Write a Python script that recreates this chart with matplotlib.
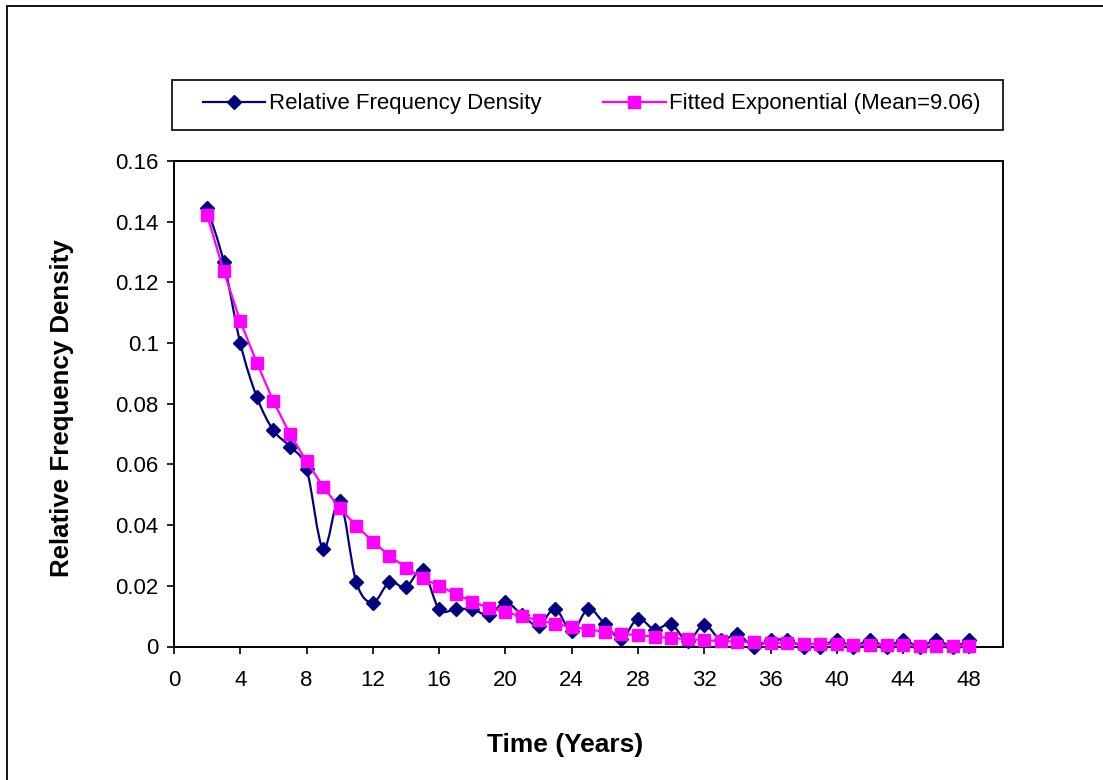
import numpy as np
import matplotlib
matplotlib.use("Agg")
import matplotlib.pyplot as plt
from matplotlib.path import Path
from matplotlib.patches import PathPatch, Rectangle
from matplotlib.lines import Line2D
from matplotlib.ticker import FuncFormatter

plt.rcParams['font.family'] = ['Liberation Sans', 'DejaVu Sans']

# Time in years
years = list(range(2, 49))

# Observed relative frequency density
rel_freq = [0.1446, 0.1268, 0.1000, 0.0822, 0.0712, 0.0659, 0.0585, 0.0321,
            0.0481, 0.0212, 0.0145, 0.0212, 0.0195, 0.0252, 0.0123, 0.0123,
            0.0123, 0.0104, 0.0146, 0.0104, 0.0069, 0.0124, 0.0050, 0.0124,
            0.0074, 0.0026, 0.0092, 0.0056, 0.0074, 0.0018, 0.0072, 0.0022,
            0.0040, 0.0000, 0.0021, 0.0021, 0.0000, 0.0000, 0.0021, 0.0000,
            0.0021, 0.0000, 0.0021, 0.0000, 0.0021, 0.0000, 0.0021]

# Fitted exponential density
fitted = [0.1421, 0.1237, 0.1072, 0.0935, 0.0808, 0.0700, 0.0610, 0.0527,
          0.0456, 0.0398, 0.0346, 0.0299, 0.0260, 0.0225, 0.0200, 0.0173,
          0.0148, 0.0127, 0.0114, 0.0099, 0.0087, 0.0074, 0.0065, 0.0056,
          0.0049, 0.0042, 0.0037, 0.0032, 0.0028, 0.0024, 0.0021, 0.0018,
          0.0016, 0.0014, 0.0012, 0.0010, 0.0009, 0.0008, 0.0007, 0.0006,
          0.0005, 0.0005, 0.0004, 0.0003, 0.0003, 0.0003, 0.0002]

x_ticks = list(range(0, 49, 4))
y_ticks = [0, 0.02, 0.04, 0.06, 0.08, 0.1, 0.12, 0.14, 0.16]

NAVY = '#000080'
MAGENTA = '#FF00FF'

W, H = 1103, 780
fig = plt.figure(figsize=(W / 100, H / 100), dpi=100)
fig.patch.set_facecolor('white')

# outer chart-area border
fig.patches.append(Rectangle((7 / W, -0.05), 1.2, 1 - 6 / H + 0.05,
                             transform=fig.transFigure, fill=False,
                             edgecolor='black', linewidth=1.3))

ax = fig.add_axes([174 / W, 1 - 646.5 / H, (1002.5 - 174) / W, (646.5 - 161) / H])


def smooth_path(xs, ys):
    """Catmull-Rom style Bezier path through all points."""
    pts = np.column_stack([xs, ys]).astype(float)
    n = len(pts)
    verts = [pts[0]]
    codes = [Path.MOVETO]
    for i in range(n - 1):
        p0 = pts[i - 1] if i > 0 else pts[i]
        p1 = pts[i]
        p2 = pts[i + 1]
        p3 = pts[i + 2] if i + 2 < n else pts[i + 1]
        c1 = p1 + (p2 - p0) / 6.0
        c2 = p2 - (p3 - p1) / 6.0
        verts += [c1, c2, p2]
        codes += [Path.CURVE4] * 3
    return Path(verts, codes)


ax.add_patch(PathPatch(smooth_path(years, rel_freq), facecolor='none',
                       edgecolor=NAVY, linewidth=1.6, zorder=2))
ax.plot(years, rel_freq, linestyle='none', marker='D', markersize=7.2,
        color=NAVY, zorder=3, clip_on=False)
ax.plot(years, fitted, color=MAGENTA, linewidth=1.6, marker='s',
        markersize=8.3, zorder=4, clip_on=False)

ax.set_xlim(0, 50)
ax.set_ylim(0, 0.16)
ax.set_xticks(x_ticks)
ax.set_yticks(y_ticks)
ax.yaxis.set_major_formatter(FuncFormatter(lambda v, p: ('%.2f' % v).rstrip('0').rstrip('.')))
ax.tick_params(axis='both', direction='out', length=5, width=1.2,
               labelsize=16, colors='black')
ax.tick_params(axis='x', pad=12)
ax.tick_params(axis='y', pad=6)
for s in ax.spines.values():
    s.set_linewidth(1.4)
    s.set_color('black')

fig.text(565 / W, 1 - 745 / H, 'Time (Years)', ha='center', va='center',
         fontsize=19, fontweight='bold')
fig.text(62 / W, 1 - 408 / H, 'Relative Frequency Density', ha='center',
         va='center', rotation=90, fontsize=18.6, fontweight='bold')

# legend box
fig.patches.append(Rectangle((172 / W, 1 - 130 / H), (1003 - 172) / W, 50 / H,
                             transform=fig.transFigure, fill=False,
                             edgecolor='black', linewidth=1.2))
handles = [Line2D([], [], color=NAVY, linewidth=1.6, marker='D', markersize=7.2),
           Line2D([], [], color=MAGENTA, linewidth=1.6, marker='s', markersize=8.3)]
labels = ['Relative Frequency Density', 'Fitted Exponential (Mean=9.06)']
fig.legend(handles, labels, loc='center left',
           bbox_to_anchor=(203 / W, 1 - 104 / H), ncol=2, frameon=False,
           fontsize=16, handlelength=2.8, handletextpad=0.15,
           columnspacing=2.8, borderpad=0, borderaxespad=0, numpoints=1)

fig.savefig('out.png', dpi=100, facecolor='white')
